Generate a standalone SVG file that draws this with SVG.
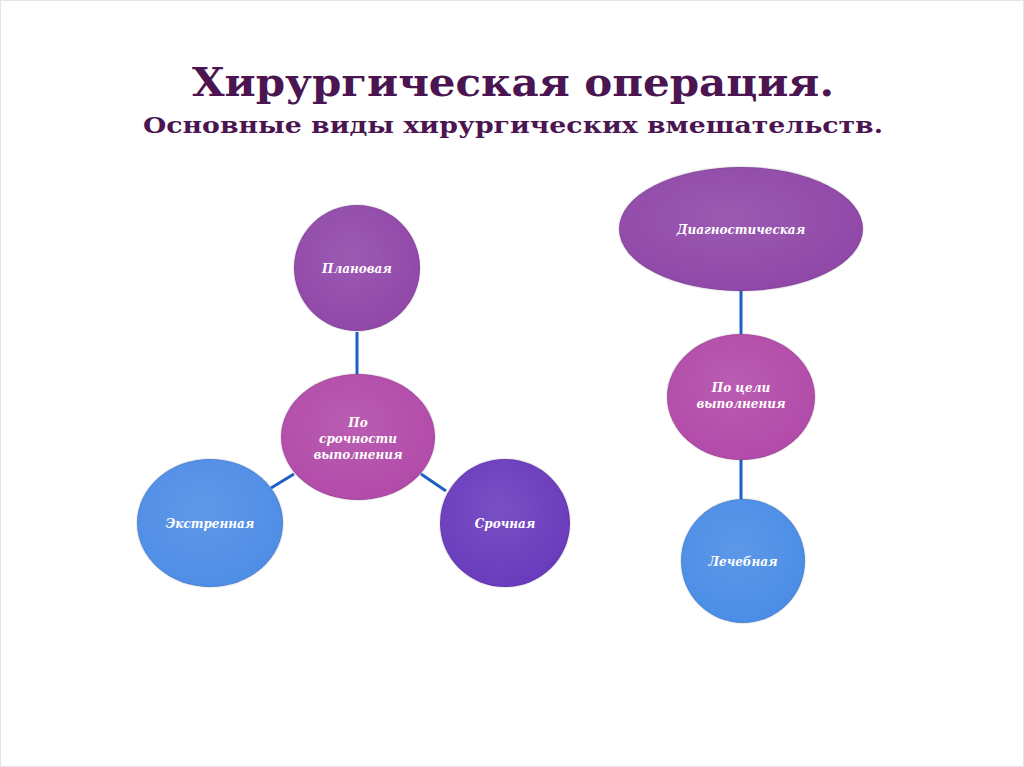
<svg xmlns="http://www.w3.org/2000/svg" width="1024" height="767" viewBox="0 0 1024 767">
<style>
.t{font-family:"DejaVu Serif","Liberation Serif",serif;font-weight:bold;fill:#4a1550;text-anchor:middle}
.n{font-family:"DejaVu Serif","Liberation Serif",serif;font-weight:bold;font-style:italic;font-size:12px;fill:#fff;text-anchor:middle}
.c{stroke:#1f5fc4;stroke-width:3}
.s{stroke:#000;stroke-opacity:0.08;stroke-width:2}
</style>
<defs>
<radialGradient id="g" cx="0.45" cy="0.4" r="0.6"><stop offset="0" stop-color="#fff" stop-opacity="0.1"/><stop offset="1" stop-color="#fff" stop-opacity="0"/></radialGradient>
</defs>
<rect x="0.5" y="0.5" width="1023" height="766" fill="#fff" stroke="#e4e4e4"/>
<text class="t" x="513" y="96" font-size="40" textLength="642" lengthAdjust="spacingAndGlyphs">Хирургическая операция.</text>
<text class="t" x="513" y="133" font-size="23" textLength="740" lengthAdjust="spacingAndGlyphs">Основные виды хирургических вмешательств.</text>
<g id="connectors">
<line class="c" x1="357" y1="332" x2="357" y2="375"/>
<line class="c" x1="271" y1="488" x2="294" y2="474"/>
<line class="c" x1="421" y1="474" x2="446" y2="491"/>
<line class="c" x1="741" y1="291" x2="741" y2="334"/>
<line class="c" x1="741" y1="460" x2="741" y2="499"/>
</g>
<g id="n1"><ellipse class="s" cx="357" cy="268" rx="63" ry="63" fill="#9148a9"/><ellipse cx="357" cy="268" rx="63" ry="63" fill="url(#g)"/><text class="n" x="357" y="273">Плановая</text></g>
<g id="n2"><ellipse class="s" cx="358" cy="437" rx="77" ry="63" fill="#b24ba9"/><ellipse cx="358" cy="437" rx="77" ry="63" fill="url(#g)"/><text class="n" x="358" y="427">По</text><text class="n" x="358" y="443">срочности</text><text class="n" x="358" y="459">выполнения</text></g>
<g id="n3"><ellipse class="s" cx="210" cy="523" rx="73" ry="64" fill="#4f8de6"/><ellipse cx="210" cy="523" rx="73" ry="64" fill="url(#g)"/><text class="n" x="210" y="528">Экстренная</text></g>
<g id="n4"><ellipse class="s" cx="505" cy="523" rx="65" ry="64" fill="#6a3cbd"/><ellipse cx="505" cy="523" rx="65" ry="64" fill="url(#g)"/><text class="n" x="505" y="528">Срочная</text></g>
<g id="n5"><ellipse class="s" cx="741" cy="229" rx="122" ry="62" fill="#9048a8"/><ellipse cx="741" cy="229" rx="122" ry="62" fill="url(#g)"/><text class="n" x="741" y="234">Диагностическая</text></g>
<g id="n6"><ellipse class="s" cx="741" cy="397" rx="74" ry="63" fill="#b24ba9"/><ellipse cx="741" cy="397" rx="74" ry="63" fill="url(#g)"/><text class="n" x="741" y="392">По цели</text><text class="n" x="741" y="408">выполнения</text></g>
<g id="n7"><ellipse class="s" cx="743" cy="561" rx="62" ry="62" fill="#4b8de6"/><ellipse cx="743" cy="561" rx="62" ry="62" fill="url(#g)"/><text class="n" x="743" y="566">Лечебная</text></g>
</svg>
